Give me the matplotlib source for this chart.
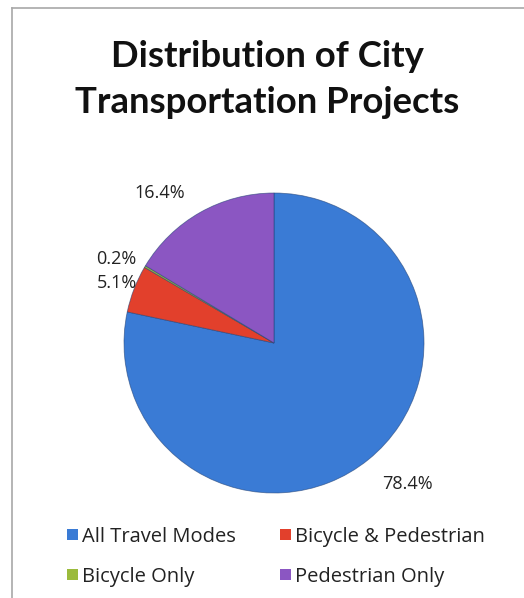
import numpy as np
import matplotlib
matplotlib.use("Agg")
import matplotlib.pyplot as plt
from matplotlib.patches import Rectangle
from matplotlib.lines import Line2D

categories = ["All Travel Modes", "Bicycle & Pedestrian", "Bicycle Only", "Pedestrian Only"]
shares = [78.4, 5.1, 0.2, 16.4]
colors = ["#3a7bd5", "#e2402c", "#9bbb3c", "#8b56c2"]
title_lines = ["Distribution of City", "Transportation Projects"]

W, H = 524, 598
fig = plt.figure(figsize=(W / 100, H / 100), dpi=100)
fig.patch.set_facecolor("white")

# chart frame (only left and top edges are visible in the canvas)
fig.add_artist(Line2D([12 / W, 12 / W], [0, 1 - 8 / H], color="#a8a8a8", lw=1.2))
fig.add_artist(Line2D([12 / W, 1], [1 - 8 / H, 1 - 8 / H], color="#a8a8a8", lw=1.2))

for line, base in zip(title_lines, [67, 113]):
    fig.text(267 / W, 1 - base / H, line, ha="center", va="baseline", fontsize=26.3,
             fontweight="bold", family="Lato", color="#111111")

cx, cy, r = 274, 343, 150
ax = fig.add_axes([(cx - r) / W, 1 - (cy + r) / H, 2 * r / W, 2 * r / H])
wedges, _ = ax.pie(shares, colors=colors, startangle=90, counterclock=False,
                   wedgeprops=dict(linewidth=0.6))
for w in wedges:
    w.set_edgecolor(matplotlib.colors.to_rgba("#1f3f73", 0.6))
ax.set_xlim(-1, 1)
ax.set_ylim(-1, 1)
ax.set_aspect("equal")
ax.axis("off")

# value labels placed around each wedge's middle angle
label_dist = [1.29, 1.12, 1.19, 1.26]
label_shift = [4.4, 0.2, 2.6, 7.8]
for w, v, d, s in zip(wedges, shares, label_dist, label_shift):
    mid = np.deg2rad((w.theta1 + w.theta2) / 2 + s)
    ax.text(d * np.cos(mid), d * np.sin(mid), f"{v:.1f}%", ha="center", va="center",
            fontsize=13, family="Open Sans", color="#222222")

# legend laid out in two columns
rows_base = [542, 582]
cols_x = [67, 280]
for i, (name, c) in enumerate(zip(categories, colors)):
    x = cols_x[i % 2]
    yb = rows_base[i // 2]
    fig.add_artist(Rectangle((x / W, 1 - (yb - 2) / H), 11 / W, 11 / H,
                             facecolor=c, edgecolor="none"))
    fig.text((x + 15) / W, 1 - yb / H, name, ha="left", va="baseline",
             fontsize=14.5, family="Open Sans", color="#222222")

fig.savefig("out.png", dpi=100)
